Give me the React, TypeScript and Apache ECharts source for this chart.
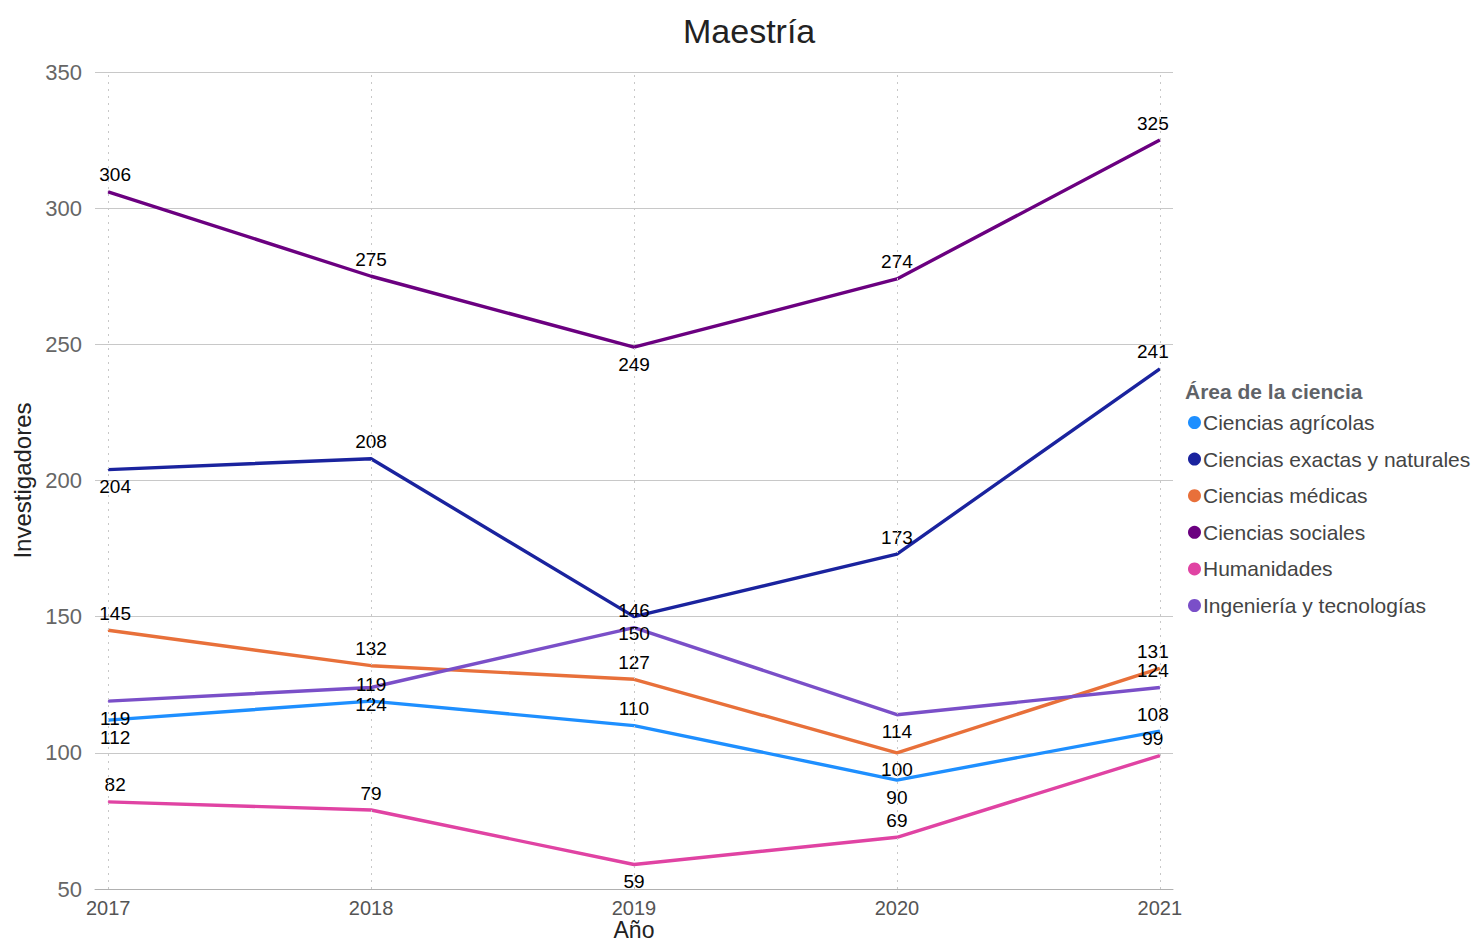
import React, { useEffect, useRef } from "react";
import * as echarts from "echarts";

const years = [2017, 2018, 2019, 2020, 2021];
const seriesNames = [
  "Ciencias agrícolas",
  "Ciencias exactas y naturales",
  "Ciencias médicas",
  "Ciencias sociales",
  "Humanidades",
  "Ingeniería y tecnologías",
];
const agricolas = [112, 119, 110, 90, 108];
const exactas = [204, 208, 150, 173, 241];
const medicas = [145, 132, 127, 100, 131];
const sociales = [306, 275, 249, 274, 325];
const humanidades = [82, 79, 59, 69, 99];
const ingenieria = [119, 124, 146, 114, 124];
const yTicks = [50, 100, 150, 200, 250, 300, 350];

const seriesValues = [agricolas, exactas, medicas, sociales, humanidades, ingenieria];
const colors = ["#1e8fff", "#1a239e", "#e8703a", "#6b0080", "#e043a3", "#7a4fc8"];
// label side for each point (layout, not data)
const labelSides = [
  ["bottom", "top", "top", "bottom", "top"],
  ["bottom", "top", "bottom", "top", "top"],
  ["top", "top", "top", "bottom", "top"],
  ["top", "top", "bottom", "top", "top"],
  ["top", "top", "bottom", "top", "top"],
  ["bottom", "bottom", "top", "bottom", "top"],
];

const FONT = "Arial, 'Liberation Sans', sans-serif";

export default function App() {
  const ref = useRef<HTMLDivElement>(null);
  useEffect(() => {
    document.body.style.margin = "0";
    if (!ref.current) return;
    const chart = echarts.init(ref.current, null, { renderer: "svg" });
    const last = years.length - 1;
    const series: any[] = seriesNames.map((name, i) => ({
      name,
      type: "line",
      z: 3,
      symbol: "circle",
      symbolSize: 1,
      showSymbol: true,
      lineStyle: { width: 3.4, color: colors[i] },
      itemStyle: { color: colors[i] },
      data: years.map((y, j) => ({
        value: [y, seriesValues[i][j]],
        label: {
          position: labelSides[i][j],
          offset: [j === 0 ? 7 : j === last ? -7 : 0, 0],
        },
      })),
      label: {
        show: true,
        distance: 7,
        color: "#000",
        fontSize: 19,
        fontFamily: FONT,
        formatter: (p: any) => String(p.value[1]),
      },
    }));
    series.push({
      name: "_grid",
      type: "line",
      z: 1,
      data: [],
      silent: true,
      markLine: {
        silent: true,
        symbol: ["none", "none"],
        label: { show: false },
        lineStyle: { type: [2, 5], color: "#c8c8c8", width: 1 },
        data: years.map((y) => ({ xAxis: y })),
      },
    });
    chart.setOption({
      animation: false,
      color: colors,
      title: {
        text: "Maestría",
        left: 678,
        top: 9,
        textStyle: { fontSize: 34, fontWeight: "normal", color: "#222", fontFamily: FONT },
      },
      grid: {
        left: 95,
        right: 301,
        top: 72,
        bottom: 56,
        containLabel: false,
        outerBoundsMode: "none",
      },
      legend: {
        data: seriesNames,
        orient: "vertical",
        left: 1183,
        top: 407,
        icon: "circle",
        itemWidth: 13,
        itemHeight: 13,
        itemGap: 15.6,
        textStyle: { fontSize: 21, color: "#444", fontFamily: FONT, padding: [0, 0, 0, -3] },
      },
      graphic: [
        {
          type: "text",
          left: 1185,
          top: 381,
          style: {
            text: "Área de la ciencia",
            fontSize: 21,
            fontWeight: "bold",
            fill: "#5f6368",
            fontFamily: FONT,
          },
        },
      ],
      xAxis: {
        type: "value",
        min: 2016.95,
        max: 2021.05,
        name: "Año",
        nameLocation: "middle",
        nameGap: 29,
        nameMoveOverlap: false,
        nameTextStyle: { fontSize: 23, color: "#222", fontFamily: FONT },
        axisLine: { show: true, lineStyle: { color: "#b0b0b0" } },
        axisTick: { show: false },
        splitLine: { show: false },
        axisLabel: {
          customValues: years,
          margin: 9,
          fontSize: 20,
          color: "#555",
          fontFamily: FONT,
          formatter: (v: number) => String(Math.round(v)),
        },
      },
      yAxis: {
        type: "value",
        min: yTicks[0],
        max: yTicks[yTicks.length - 1],
        interval: 50,
        name: "Investigadores",
        nameLocation: "middle",
        nameGap: 61,
        nameMoveOverlap: false,
        nameRotate: 90,
        nameTextStyle: { fontSize: 24, color: "#222", fontFamily: FONT },
        axisLine: { show: false },
        axisTick: { show: false },
        axisLabel: { margin: 13, fontSize: 22, color: "#666", fontFamily: FONT },
        splitLine: { lineStyle: { color: "#c8c8c8", width: 1 } },
      },
      series,
    });
    return () => chart.dispose();
  }, []);
  return <div ref={ref} style={{ width: 1474, height: 945 }} />;
}
